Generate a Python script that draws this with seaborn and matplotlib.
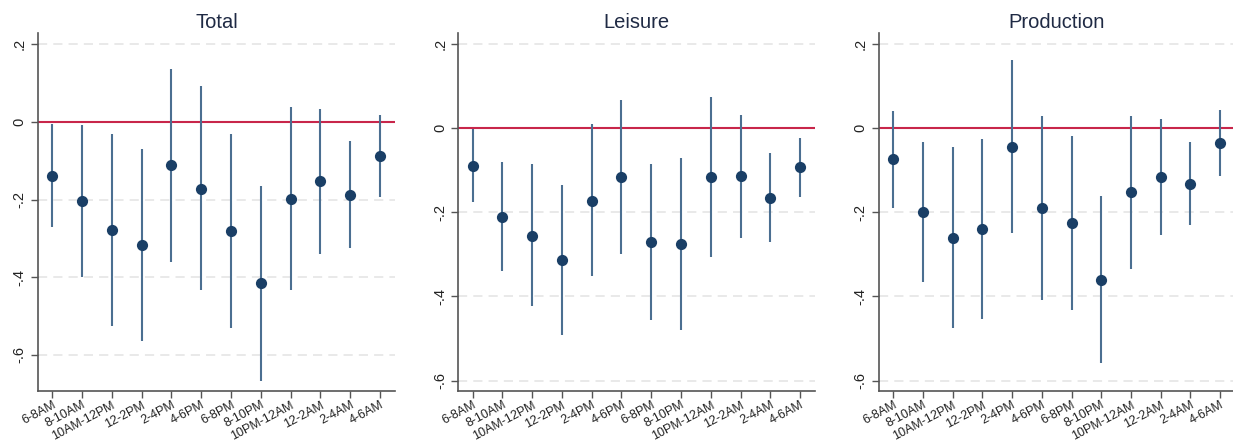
import numpy as np
import pandas as pd
import seaborn as sns
import matplotlib
matplotlib.use('Agg')
import matplotlib.pyplot as plt

# time slots on the x axis
slots = ['6-8AM', '8-10AM', '10AM-12PM', '12-2PM', '2-4PM', '4-6PM',
         '6-8PM', '8-10PM', '10PM-12AM', '12-2AM', '2-4AM', '4-6AM']

panels = ['Total', 'Leisure', 'Production']

# point estimates and confidence bounds
total_est = [-0.139, -0.205, -0.279, -0.317, -0.111, -0.172, -0.281, -0.416, -0.199, -0.152, -0.188, -0.089]
total_lo = [-0.271, -0.400, -0.525, -0.565, -0.360, -0.434, -0.531, -0.667, -0.434, -0.340, -0.326, -0.194]
total_hi = [-0.006, -0.009, -0.032, -0.070, 0.137, 0.092, -0.032, -0.165, 0.037, 0.034, -0.050, 0.017]

leisure_est = [-0.089, -0.211, -0.256, -0.314, -0.172, -0.116, -0.271, -0.275, -0.115, -0.113, -0.165, -0.093]
leisure_lo = [-0.175, -0.340, -0.423, -0.491, -0.351, -0.300, -0.457, -0.480, -0.305, -0.260, -0.271, -0.164]
leisure_hi = [-0.002, -0.081, -0.086, -0.136, 0.009, 0.067, -0.085, -0.070, 0.075, 0.032, -0.059, -0.023]

prod_est = [-0.074, -0.199, -0.260, -0.239, -0.045, -0.190, -0.225, -0.360, -0.152, -0.116, -0.132, -0.036]
prod_lo = [-0.189, -0.366, -0.475, -0.453, -0.249, -0.408, -0.431, -0.558, -0.334, -0.253, -0.231, -0.114]
prod_hi = [0.042, -0.032, -0.045, -0.025, 0.161, 0.029, -0.018, -0.161, 0.030, 0.022, -0.033, 0.044]

yticks = [0.2, 0, -0.2, -0.4, -0.6]
ytick_labels = ['.2', '0', '-.2', '-.4', '-.6']

frames = []
for name, est, lo, hi in [('Total', total_est, total_lo, total_hi),
                          ('Leisure', leisure_est, leisure_lo, leisure_hi),
                          ('Production', prod_est, prod_lo, prod_hi)]:
    frames.append(pd.DataFrame({'panel': name, 'slot': slots, 'pos': np.arange(len(slots)),
                                'est': est, 'lo': lo, 'hi': hi}))
df = pd.concat(frames, ignore_index=True)

sns.set_style('white')
plt.rcParams['font.family'] = ['Liberation Sans', 'DejaVu Sans']

marker_col = '#1a3f66'
ci_col = '#4b6f91'
zero_col = '#c8264a'

fig = plt.figure(figsize=(12.33, 4.42), dpi=100)
# axes boxes in figure fraction (left, bottom, width, height)
boxes = [[0.0306, 0.116, 0.2898, 0.809],
         [0.3717, 0.116, 0.2893, 0.809],
         [0.7127, 0.116, 0.2890, 0.809]]
ylims = [(-0.692, 0.228), (-0.624, 0.226), (-0.624, 0.226)]

for i, name in enumerate(panels):
    ax = fig.add_axes(boxes[i])
    d = df[df['panel'] == name]
    for y in yticks:
        if y != 0:
            ax.axhline(y, color='#e3e3e3', linestyle=(0, (6, 4)), linewidth=1.1, zorder=0)
    ax.axhline(0, color=zero_col, linewidth=1.5, zorder=1)
    ax.vlines(d['pos'], d['lo'], d['hi'], color=ci_col, linewidth=1.5, zorder=2)
    sns.scatterplot(data=d, x='pos', y='est', ax=ax, color=marker_col, s=65,
                    edgecolor=marker_col, linewidth=0, zorder=3, legend=False)
    ax.set_xlim(-0.48, 11.5)
    ax.set_ylim(*ylims[i])
    ax.set_xticks(range(len(slots)))
    ax.set_xticklabels(slots, rotation=28, ha='right', va='top', rotation_mode='anchor',
                       fontsize=9, color='#222222')
    ax.set_yticks(yticks)
    ax.set_yticklabels(ytick_labels, rotation=90, va='center', fontsize=10.5, color='#222222')
    ax.tick_params(axis='x', length=5, width=1, color='#555555', pad=1, bottom=True)
    ax.tick_params(axis='y', length=5, width=1, color='#555555', pad=3, left=True)
    ax.set_xlabel('')
    ax.set_ylabel('')
    ax.set_title(name, fontsize=14.5, color='#1f2a44', pad=4)
    sns.despine(ax=ax, top=True, right=True)
    for s in ['left', 'bottom']:
        ax.spines[s].set_color('#555555')
        ax.spines[s].set_linewidth(1.2)

fig.savefig('out.png', dpi=100)
